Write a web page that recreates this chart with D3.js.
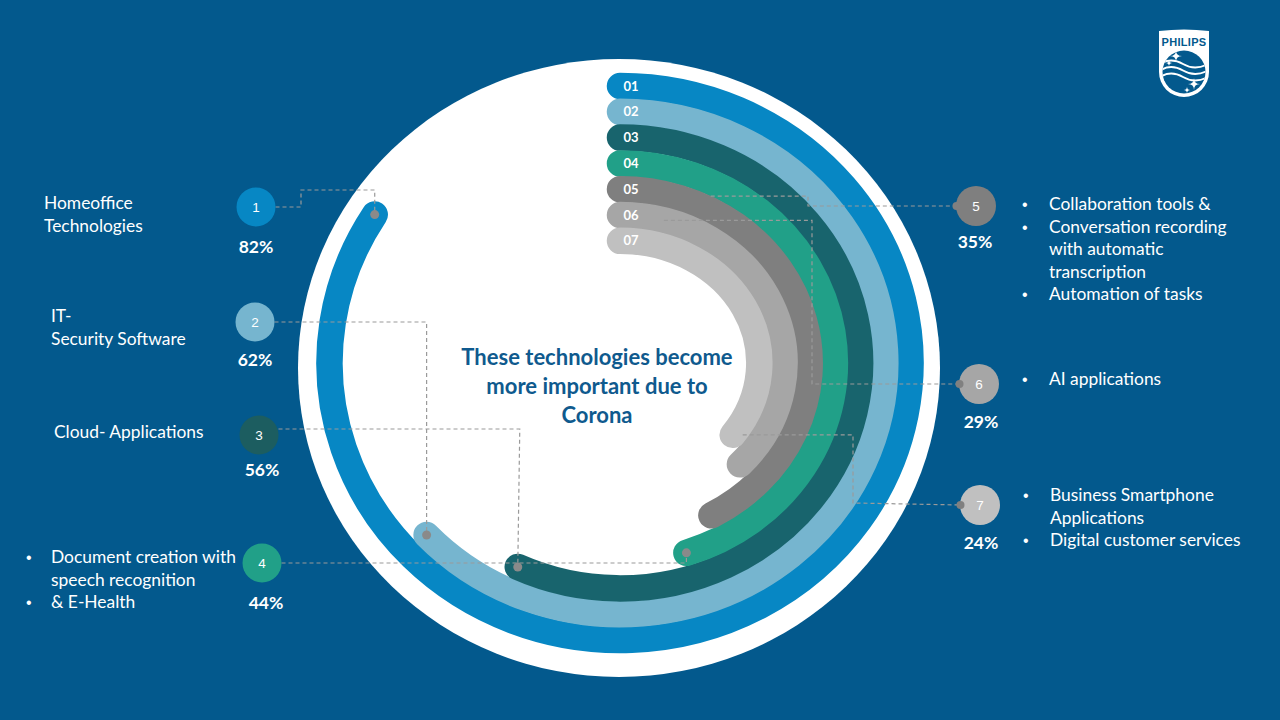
<!DOCTYPE html>
<html>
<head>
<meta charset="utf-8">
<script src="https://cdn.jsdelivr.net/npm/d3@7"></script>
<style>
  html, body { margin: 0; padding: 0; background: #03598d; }
  svg { display: block; }
</style>
</head>
<body>
<svg id="chart" width="1280" height="720"></svg>
<script>
// ---------- data ----------
const ringCodes   = ["01", "02", "03", "04", "05", "06", "07"];
const badgeNumbers = ["1", "2", "3", "4", "5", "6", "7"];
const shareValues = [82, 62, 56, 44, 35, 29, 24];           // printed percentages
const arcReach    = [84, 63, 57, 45, 42, 37, 35];           // where each drawn arc ends (% of a full turn)
const categoryLines = [
  [["Homeoffice", false], ["Technologies", false]],
  [["IT-", false], ["Security Software", false]],
  [["Cloud- Applications", false]],
  [["Document creation with", true], ["speech recognition", false], ["& E-Health", true]],
  [["Collaboration tools &", true], ["Conversation recording", true], ["with automatic", false], ["transcription", false], ["Automation of tasks", true]],
  [["AI applications", true]],
  [["Business Smartphone", true], ["Applications", false], ["Digital customer services", true]]
];
const titleLines = ["These technologies become", "more important due to", "Corona"];

// ---------- styles ----------
const ringColors  = ["#0787c4", "#76b5cf", "#18646d", "#21a088", "#7f7f7f", "#a6a6a6", "#c0c0c0"];
const badgeColors = ["#0787c4", "#76b5cf", "#1c5d60", "#21a088", "#7f7f7f", "#a6a6a6", "#c0c0c0"];
const BG = "#03598d";
const FONT = "Lato, 'Open Sans', sans-serif";

// ---------- layout ----------
const cx = 620, cy = 363;
const badgePos = [[256,207],[255,322],[259,435],[262,563],[976,206],[979,384],[980,505]];
const badgeR = 19.5;
const pctPos = [[256,247],[255,360],[262,470],[266,603],[975,242],[981,422],[981,543]];
const textPos = [
  {x:44, y:203, bx:null}, {x:51, y:316, bx:null}, {x:54, y:432, bx:null},
  {x:51, y:557, bx:26}, {x:1049, y:204, bx:1022}, {x:1049, y:379, bx:1022}, {x:1050, y:495, bx:1023}
];
const lineGap = 22.5;

const svg = d3.select("#chart");
svg.append("rect").attr("width",1280).attr("height",720).attr("fill",BG);

// scales
const rx = d3.scaleLinear().domain([0, 6]).range([290.5, 139.3]);
const ry = d3.scaleLinear().domain([0, 6]).range([277, 122.2]);
const ang = d3.scaleLinear().domain([0, 100]).range([0, 2 * Math.PI]);
const pt = (i, pct) => {
  const a = ang(pct);
  return [cx + rx(i) * Math.sin(a), cy - ry(i) * Math.cos(a)];
};
const arcPath = (i, pct) => {
  const p0 = pt(i, 0), p1 = pt(i, pct);
  const large = ang(pct) > Math.PI ? 1 : 0;
  return `M${p0[0]},${p0[1]}A${rx(i)},${ry(i)} 0 ${large} 1 ${p1[0]},${p1[1]}`;
};

// white disc
svg.append("ellipse").attr("cx", 619).attr("cy", 368).attr("rx", 321).attr("ry", 309).attr("fill", "#fff");

// rings
const rings = ringCodes.map((c, i) => ({code: c, i, reach: arcReach[i], color: ringColors[i]}));
svg.append("g").selectAll("path").data(rings).join("path")
  .attr("d", d => arcPath(d.i, d.reach))
  .attr("fill", "none").attr("stroke", d => d.color)
  .attr("stroke-width", 26.5).attr("stroke-linecap", "round");

svg.append("g").selectAll("text").data(rings).join("text")
  .attr("x", 631).attr("y", d => pt(d.i, 0)[1] + 4.5)
  .attr("text-anchor", "middle").attr("fill", "#fff")
  .attr("font-family", FONT).attr("font-weight", 700).attr("font-size", 13)
  .text(d => d.code);

// title
svg.append("g").selectAll("text").data(titleLines).join("text")
  .attr("x", 597).attr("y", (d, k) => 364.5 + k * 29)
  .attr("text-anchor", "middle").attr("fill", "#0f5a8e")
  .attr("font-family", FONT).attr("font-weight", 700).attr("font-size", 22)
  .text(d => d);

// leader lines
const ends = rings.map(d => pt(d.i, d.reach));
const bL = k => [badgePos[k][0] + badgeR, badgePos[k][1]];
const bR = k => [badgePos[k][0] - badgeR, badgePos[k][1]];
const a5 = pt(3.5, 7.4), a6 = pt(5, 4.3), a7 = ends[6];
const leaders = [
  [bL(0), [301, badgePos[0][1]], [301, 190], [ends[0][0], 190], ends[0]],
  [bL(1), [ends[1][0], badgePos[1][1]], ends[1]],
  [[bL(2)[0], 429], [ends[2][0] + 2, 429], ends[2]],
  [bL(3), [ends[3][0], badgePos[3][1]], ends[3]],
  [a5, [808, a5[1]], [808, badgePos[4][1]], bR(4)],
  [a6, [812, a6[1]], [812, badgePos[5][1]], bR(5)],
  [[a7[0] + 10, a7[1]], [853, a7[1]], [853, badgePos[6][1] - 2], bR(6)]
];
svg.append("g").selectAll("path").data(leaders).join("path")
  .attr("d", d => d3.line()(d))
  .attr("fill", "none").attr("stroke", "#9a9a9a").attr("stroke-width", 1.2)
  .attr("stroke-dasharray", "4,3");

// arc end dots
svg.append("g").selectAll("circle").data(ends.slice(0, 4)).join("circle")
  .attr("cx", d => d[0]).attr("cy", d => d[1]).attr("r", 4.5).attr("fill", "#8a8a8a");

// badges
const badges = badgeNumbers.map((n, k) => ({n, k, pos: badgePos[k], color: badgeColors[k], value: shareValues[k]}));
const bg = svg.append("g");
bg.selectAll("circle.b").data(badges).join("circle").attr("class", "b")
  .attr("cx", d => d.pos[0]).attr("cy", d => d.pos[1]).attr("r", d => d.k >= 4 ? 20 : badgeR)
  .attr("fill", d => d.color);
bg.selectAll("circle.d").data(badges.filter(d => d.k >= 4)).join("circle").attr("class", "d")
  .attr("cx", d => d.pos[0] - 19.5).attr("cy", d => d.pos[1]).attr("r", 4)
  .attr("fill", "#808080");
bg.selectAll("text.n").data(badges).join("text").attr("class", "n")
  .attr("x", d => d.pos[0]).attr("y", d => d.pos[1] + 5)
  .attr("text-anchor", "middle").attr("fill", "#fff")
  .attr("font-family", "'Liberation Sans', Arial, sans-serif").attr("font-size", 13.5)
  .text(d => d.n);
bg.selectAll("text.p").data(badges).join("text").attr("class", "p")
  .attr("x", d => pctPos[d.k][0]).attr("y", d => pctPos[d.k][1] + 6)
  .attr("text-anchor", "middle").attr("fill", "#fff")
  .attr("font-family", FONT).attr("font-weight", 700).attr("font-size", 17.5)
  .text(d => d.value + "%");

// category texts
categoryLines.forEach((lines, k) => {
  const tp = textPos[k];
  const g = svg.append("g");
  lines.forEach(([t, bullet], j) => {
    const y = tp.y + j * lineGap + 6;
    g.append("text").attr("x", tp.x).attr("y", y).attr("fill", "#fff")
      .attr("font-family", FONT).attr("font-size", 17.4).text(t);
    if (bullet && tp.bx !== null) {
      g.append("text").attr("x", tp.bx).attr("y", y).attr("fill", "#fff")
        .attr("font-family", "'Liberation Sans', Arial, sans-serif").attr("font-size", 16).text("\u2022");
    }
  });
});

// Philips shield logo
const logo = svg.append("g");
logo.append("path")
  .attr("d", "M1159,31 Q1184,28 1209,31 L1209,72 A25,25 0 0 1 1159,72 Z")
  .attr("fill", "#fff");
logo.append("text").attr("x", 1184).attr("y", 46).attr("text-anchor", "middle")
  .attr("fill", BG).attr("font-family", "'Liberation Sans', Arial, sans-serif")
  .attr("font-weight", 700).attr("font-size", 11).attr("letter-spacing", 0.3).text("PHILIPS");
logo.append("clipPath").attr("id", "emb").append("circle").attr("cx", 1184).attr("cy", 72).attr("r", 21.5);
logo.append("circle").attr("cx", 1184).attr("cy", 72).attr("r", 21.5).attr("fill", BG);
const waves = logo.append("g").attr("clip-path", "url(#emb)");
[64, 70.5, 77].forEach(y => {
  waves.append("path")
    .attr("d", `M1160,${y} Q1171,${y - 7} 1183,${y} T1208,${y}`)
    .attr("fill", "none").attr("stroke", "#fff").attr("stroke-width", 2);
});
const star = (x, y, s) => `M${x},${y - s}Q${x},${y} ${x + s},${y}Q${x},${y} ${x},${y + s}Q${x},${y} ${x - s},${y}Q${x},${y} ${x},${y - s}Z`;
[[1176, 56, 6], [1169, 63, 3.5], [1194, 84, 6], [1187, 90, 3.5]].forEach(([x, y, s]) => {
  logo.append("path").attr("d", star(x, y, s)).attr("fill", "#fff");
});
</script>
</body>
</html>
